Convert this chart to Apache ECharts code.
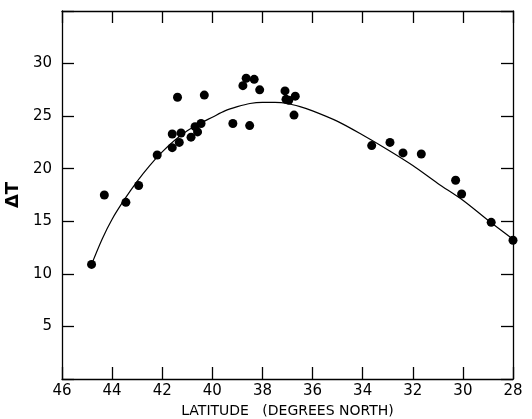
<!DOCTYPE html>
<html><head><meta charset="utf-8">
<script src="https://cdn.jsdelivr.net/npm/echarts@6/dist/echarts.min.js"></script>
<style>html,body{margin:0;padding:0;background:#fff}#c{width:532px;height:419px}</style>
</head><body><div id="c"></div>
<script>
// Observed points: latitude (deg N) and ΔT
const obsLat = [44.82, 44.31, 43.45, 42.94, 42.2, 41.6, 41.6, 41.39, 41.32, 41.25, 40.85, 40.69, 40.59, 40.45, 40.32, 39.18, 38.78, 38.65, 38.51, 38.33, 38.11, 37.1, 37.06, 36.95, 36.74, 36.69, 33.64, 32.91, 32.39, 31.66, 30.29, 30.05, 28.87, 28.0];
const obsDT  = [10.9, 17.5, 16.8, 18.4, 21.3, 23.3, 22.0, 26.8, 22.5, 23.4, 23.0, 24.0, 23.5, 24.3, 27.0, 24.3, 27.9, 28.6, 24.1, 28.5, 27.5, 27.4, 26.6, 26.5, 25.1, 26.9, 22.2, 22.5, 21.5, 21.4, 18.9, 17.6, 14.9, 13.2];
// Fitted curve
const fitLat = [44.82, 44.4, 44.0, 43.5, 43.0, 42.5, 42.0, 41.5, 41.0, 40.5, 40.0, 39.5, 39.0, 38.5, 38.0, 37.5, 37.0, 36.5, 36.0, 35.0, 34.0, 33.0, 32.0, 31.0, 30.0, 29.0, 28.0];
const fitDT  = [10.9, 13.3, 15.2, 17.1, 18.8, 20.3, 21.6, 22.7, 23.6, 24.3, 24.9, 25.5, 25.9, 26.2, 26.3, 26.3, 26.2, 25.9, 25.5, 24.5, 23.2, 21.8, 20.3, 18.6, 17.0, 15.1, 13.3];
const yTickLabels = ['5', '10', '15', '20', '25', '30'];

const font = 'DejaVu Sans';
const axisLine = {show: true, onZero: false, lineStyle: {color: '#000', width: 1.3}};
const tick = {show: true, inside: true, length: 12, lineStyle: {color: '#000', width: 1.3}};

const chart = echarts.init(document.getElementById('c'));
chart.setOption({
  animation: false,
  backgroundColor: '#fff',
  grid: {left: 62, right: 19, top: 11, bottom: 40, containLabel: false, outerBoundsMode: 'none'},
  xAxis: [{
    type: 'value', inverse: true, min: 28, max: 46, interval: 2, position: 'bottom',
    axisLine, axisTick: tick, splitLine: {show: false},
    axisLabel: {color: '#000', fontFamily: font, fontSize: 15, margin: 5},
    name: 'LATITUDE   (DEGREES NORTH)', nameLocation: 'middle', nameGap: 25,
    nameTextStyle: {color: '#000', fontFamily: font, fontSize: 14}
  }, {
    type: 'value', inverse: true, min: 28, max: 46, interval: 2, position: 'top',
    axisLine, axisTick: tick, axisLabel: {show: false}, splitLine: {show: false}
  }],
  yAxis: [{
    type: 'value', min: 0, max: 35, interval: 5, position: 'left',
    axisLine, axisTick: tick, splitLine: {show: false},
    axisLabel: {color: '#000', fontFamily: font, fontSize: 15, margin: 10,
      formatter: v => yTickLabels.includes(String(v)) ? String(v) : ''},
    name: 'ΔT', nameLocation: 'middle', nameGap: 28, nameRotate: 90,
    nameTextStyle: {color: '#000', fontFamily: font, fontSize: 18, fontWeight: 'bold'}
  }, {
    type: 'value', min: 0, max: 35, interval: 5, position: 'right',
    axisLine, axisTick: tick, axisLabel: {show: false}, splitLine: {show: false}
  }],
  series: [{
    type: 'line', smooth: 0.3, showSymbol: false, xAxisIndex: 0, yAxisIndex: 0,
    lineStyle: {color: '#000', width: 1.2},
    data: fitLat.map((x, i) => [x, fitDT[i]])
  }, {
    type: 'scatter', symbol: 'circle', symbolSize: 9, xAxisIndex: 0, yAxisIndex: 0,
    itemStyle: {color: '#000', opacity: 1},
    data: obsLat.map((x, i) => [x, obsDT[i]])
  }]
});
</script></body></html>
